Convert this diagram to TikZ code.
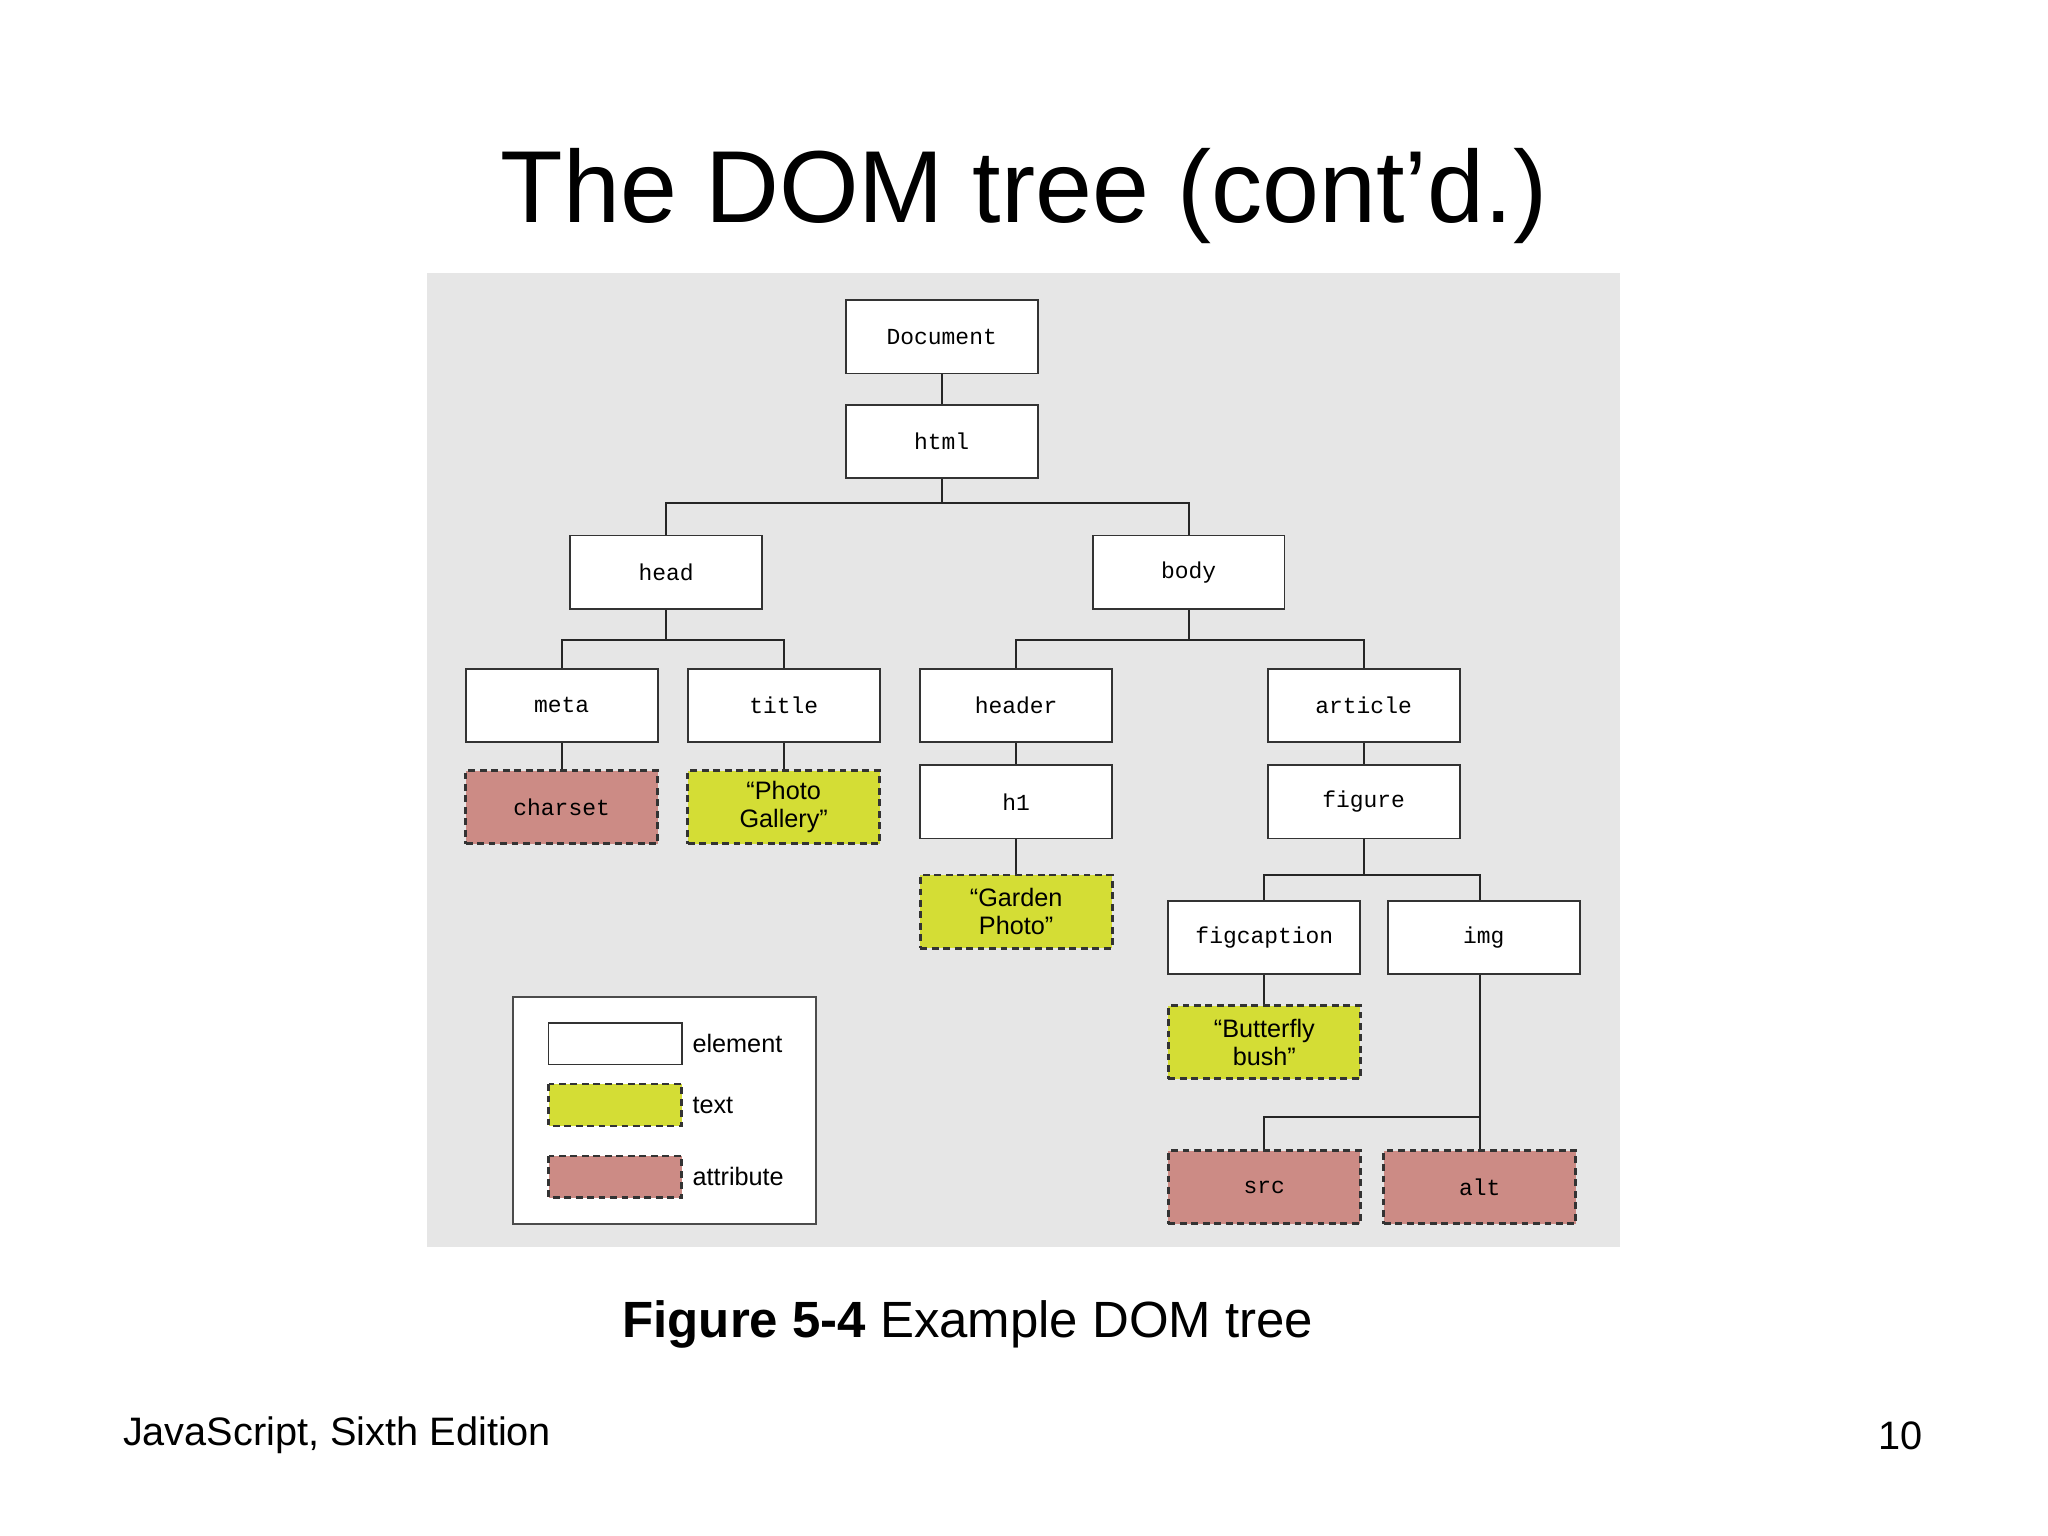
\documentclass[tikz,border=0pt]{standalone}
\usepackage{fontspec}
\setmainfont{Liberation Sans}
\newfontfamily\monof{Liberation Mono}
\begin{document}
\begin{tikzpicture}[x=0.02cm,y=-0.02cm,
  box/.style={draw=black!80,line width=0.8pt,fill=white,minimum width=2.94cm,minimum height=1.12cm,inner sep=0pt,font=\monof\fontsize{10}{12}\selectfont},
  txt/.style={box,fill=txtc,dashed,line width=1.2pt,dash pattern=on 3pt off 2pt,font=\fontsize{11}{12}\selectfont,align=center},
  att/.style={box,fill=attc,dashed,line width=1.2pt,dash pattern=on 3pt off 2pt},
  ln/.style={draw=black!85,line width=0.9pt}]
\definecolor{txtc}{HTML}{D4DD35}
\definecolor{attc}{HTML}{CC8B85}
\definecolor{panel}{HTML}{E6E6E6}
\fill[white] (0,0) rectangle (1568,1176);
\fill[panel] (327,209) rectangle (1240,955);
\node[font=\fontsize{44.6}{50}\selectfont] (ttl) at (784,150) {The DOM tree (cont\symbol{39}d.)};
\draw[ln] (721,286) -- (721,310);
\draw[ln] (721,366) -- (721,385) (510,411) |- (910,385) -- (910,411);
\draw[ln] (510,466) -- (510,490) (430,512) |- (600,490) -- (600,512);
\draw[ln] (910,466) -- (910,490) (778,512) |- (1044,490) -- (1044,512);
\draw[ln] (430,568) -- (430,590) (600,568) -- (600,590);
\draw[ln] (778,568) -- (778,586) (778,642) -- (778,670);
\draw[ln] (1044,568) -- (1044,586) (1044,642) -- (1044,670) (968,691) |- (1133,670) -- (1133,691);
\draw[ln] (968,746) -- (968,770);
\draw[ln] (1133,746) -- (1133,881) (968,881) |- (1133,855);
\node[box] (doc) at (721,258) {Document};
\node[box] (html) at (721,338) {html};
\node[box] (head) at (510,438) {head};
\node[box] (body) at (910,438) {body};
\node[box] (meta) at (430,540) {meta};
\node[box] (title) at (600,540) {title};
\node[box] (header) at (778,540) {header};
\node[box] (article) at (1044,540) {article};
\node[att] (charset) at (430,618) {charset};
\node[txt] (pg) at (600,618) {“Photo\\Gallery”};
\node[box] (h1) at (778,614) {h1};
\node[box] (figure) at (1044,614) {figure};
\node[txt] (gp) at (778,698) {“Garden\\Photo”};
\node[box] (figc) at (968,718) {figcaption};
\node[box] (img) at (1136,718) {img};
\node[txt] (bb) at (968,798) {“Butterfly\\bush”};
\node[att] (src) at (968,909) {src};
\node[att] (alt) at (1133,909) {alt};
\draw[black!70,line width=0.8pt,fill=white] (393,763) rectangle (625,937);
\draw[black!80,line width=0.8pt,fill=white] (420,783) rectangle (522,815);
\draw[black!80,line width=1.2pt,dash pattern=on 3pt off 2pt,fill=txtc] (420,830) rectangle (522,862);
\draw[black!80,line width=1.2pt,dash pattern=on 3pt off 2pt,fill=attc] (420,885) rectangle (522,917);
\node[anchor=west,font=\fontsize{11}{12}\selectfont] (le) at (524,799) {element};
\node[anchor=west,font=\fontsize{11}{12}\selectfont] (lt) at (524,846) {text};
\node[anchor=west,font=\fontsize{11}{12}\selectfont] (la) at (524,901) {attribute};
\node[font=\fontsize{22.2}{26}\selectfont] (cap) at (741,1014) {\textbf{Figure 5-4} Example DOM tree};
\node[anchor=west,font=\fontsize{17.3}{20}\selectfont] (foot) at (88,1099) {JavaScript, Sixth Edition};
\node[anchor=east,font=\fontsize{17.3}{20}\selectfont] (pg10) at (1478,1099) {10};
\end{tikzpicture}
\end{document}
